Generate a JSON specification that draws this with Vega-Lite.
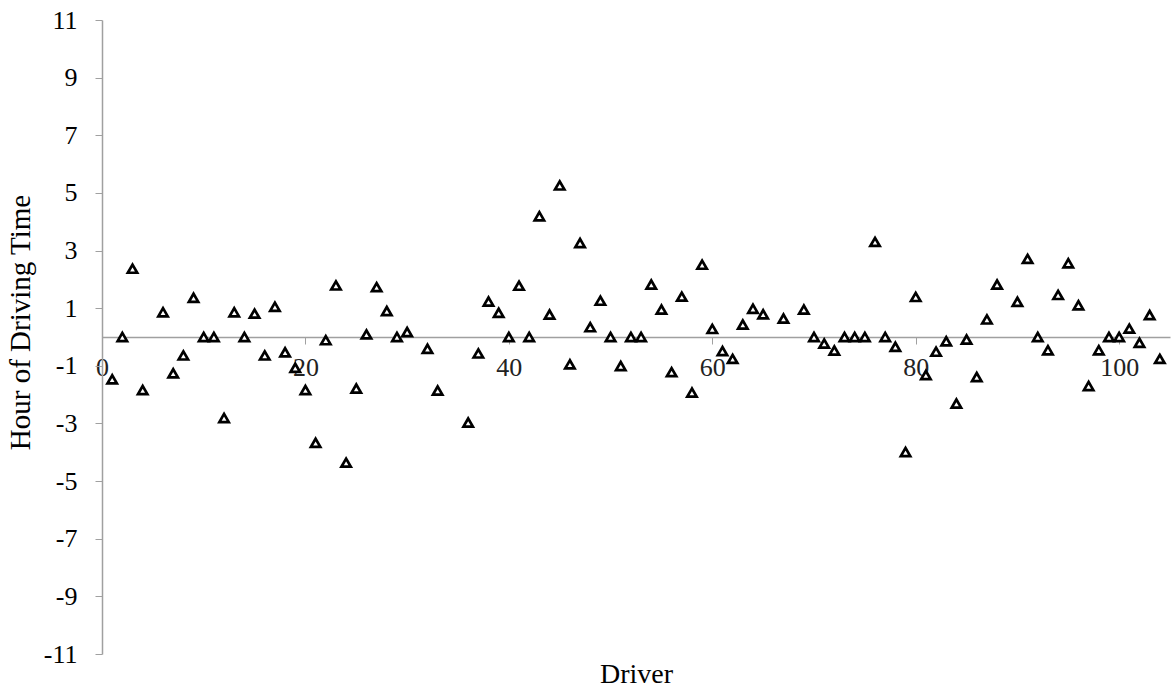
{
  "$schema": "https://vega.github.io/schema/vega-lite/v6.json",
  "width": 1068,
  "height": 634,
  "autosize": {"type": "none"},
  "padding": {"left": 102, "top": 20, "right": 5, "bottom": 44},
  "background": "white",
  "config": {"view": {"stroke": null}},
  "data": {"values": [
    {"driver": 1, "hours": -1.47}, {"driver": 2, "hours": 0}, {"driver": 3, "hours": 2.37}, {"driver": 4, "hours": -1.84},
    {"driver": 6, "hours": 0.86}, {"driver": 7, "hours": -1.26}, {"driver": 8, "hours": -0.64}, {"driver": 9, "hours": 1.36},
    {"driver": 10, "hours": 0}, {"driver": 11, "hours": 0}, {"driver": 12, "hours": -2.81}, {"driver": 13, "hours": 0.86},
    {"driver": 14, "hours": 0}, {"driver": 15, "hours": 0.81}, {"driver": 16, "hours": -0.64}, {"driver": 17, "hours": 1.05},
    {"driver": 18, "hours": -0.53}, {"driver": 19, "hours": -1.07}, {"driver": 20, "hours": -1.84}, {"driver": 21, "hours": -3.67},
    {"driver": 22, "hours": -0.11}, {"driver": 23, "hours": 1.79}, {"driver": 24, "hours": -4.36}, {"driver": 25, "hours": -1.79},
    {"driver": 26, "hours": 0.09}, {"driver": 27, "hours": 1.73}, {"driver": 28, "hours": 0.9}, {"driver": 29, "hours": 0},
    {"driver": 30, "hours": 0.17}, {"driver": 32, "hours": -0.41}, {"driver": 33, "hours": -1.86}, {"driver": 36, "hours": -2.97},
    {"driver": 37, "hours": -0.57}, {"driver": 38, "hours": 1.23}, {"driver": 39, "hours": 0.84}, {"driver": 40, "hours": 0},
    {"driver": 41, "hours": 1.78}, {"driver": 42, "hours": 0}, {"driver": 43, "hours": 4.19}, {"driver": 44, "hours": 0.78},
    {"driver": 45, "hours": 5.26}, {"driver": 46, "hours": -0.95}, {"driver": 47, "hours": 3.26}, {"driver": 48, "hours": 0.34},
    {"driver": 49, "hours": 1.26}, {"driver": 50, "hours": 0}, {"driver": 51, "hours": -1.01}, {"driver": 52, "hours": 0},
    {"driver": 53, "hours": 0}, {"driver": 54, "hours": 1.82}, {"driver": 55, "hours": 0.95}, {"driver": 56, "hours": -1.22},
    {"driver": 57, "hours": 1.4}, {"driver": 58, "hours": -1.93}, {"driver": 59, "hours": 2.51}, {"driver": 60, "hours": 0.28},
    {"driver": 61, "hours": -0.49}, {"driver": 62, "hours": -0.76}, {"driver": 63, "hours": 0.43}, {"driver": 64, "hours": 0.98},
    {"driver": 65, "hours": 0.79}, {"driver": 67, "hours": 0.64}, {"driver": 69, "hours": 0.95}, {"driver": 70, "hours": 0},
    {"driver": 71, "hours": -0.23}, {"driver": 72, "hours": -0.47}, {"driver": 73, "hours": 0}, {"driver": 74, "hours": 0},
    {"driver": 75, "hours": 0}, {"driver": 76, "hours": 3.3}, {"driver": 77, "hours": 0}, {"driver": 78, "hours": -0.34},
    {"driver": 79, "hours": -3.99}, {"driver": 80, "hours": 1.39}, {"driver": 81, "hours": -1.32}, {"driver": 82, "hours": -0.51},
    {"driver": 83, "hours": -0.15}, {"driver": 84, "hours": -2.31}, {"driver": 85, "hours": -0.09}, {"driver": 86, "hours": -1.39},
    {"driver": 87, "hours": 0.61}, {"driver": 88, "hours": 1.82}, {"driver": 90, "hours": 1.22}, {"driver": 91, "hours": 2.71},
    {"driver": 92, "hours": 0}, {"driver": 93, "hours": -0.46}, {"driver": 94, "hours": 1.46}, {"driver": 95, "hours": 2.56},
    {"driver": 96, "hours": 1.1}, {"driver": 97, "hours": -1.7}, {"driver": 98, "hours": -0.46}, {"driver": 99, "hours": 0},
    {"driver": 100, "hours": 0}, {"driver": 101, "hours": 0.29}, {"driver": 102, "hours": -0.2}, {"driver": 103, "hours": 0.76},
    {"driver": 104, "hours": -0.76}
  ]},
  "mark": {"type": "point", "shape": "triangle-up", "filled": true, "fill": "white", "stroke": "black", "strokeWidth": 2.7, "size": 88, "opacity": 1},
  "encoding": {
    "x": {
      "field": "driver", "type": "quantitative",
      "scale": {"domain": [0, 105], "nice": false, "zero": false},
      "axis": {
        "title": "Driver", "values": [0, 20, 40, 60, 80, 100], "offset": -317,
        "grid": false, "domainColor": "#a0a0a0", "domainWidth": 1.5, "tickColor": "#a0a0a0", "tickSize": 7, "tickWidth": 1,
        "labelFont": "Liberation Serif", "labelFontSize": 26, "labelColor": "#222222", "labelPadding": 10,
        "labelFlush": false, "labelOverlap": false,
        "titleFont": "Liberation Serif", "titleFontSize": 28, "titleFontWeight": "normal", "titleColor": "black",
        "titleX": 534, "titleY": 323, "titleBaseline": "top", "titleAlign": "center"
      }
    },
    "y": {
      "field": "hours", "type": "quantitative",
      "scale": {"domain": [-11, 11], "nice": false, "zero": false},
      "axis": {
        "title": "Hour of Driving Time", "values": [-11, -9, -7, -5, -3, -1, 1, 3, 5, 7, 9, 11],
        "labelExpr": "datum.value < 0 ? '-' + abs(datum.value) : '' + datum.value",
        "grid": false, "domainColor": "#a0a0a0", "domainWidth": 1.5, "tickColor": "#a0a0a0", "tickSize": 7, "tickWidth": 1,
        "labelFont": "Liberation Serif", "labelFontSize": 26, "labelColor": "black", "labelPadding": 18,
        "titleFont": "Liberation Serif", "titleFontSize": 29, "titleFontWeight": "normal", "titleColor": "black",
        "titleX": -82, "titleY": 302, "titleBaseline": "middle", "titleAlign": "center", "titleAngle": -90
      }
    }
  }
}
